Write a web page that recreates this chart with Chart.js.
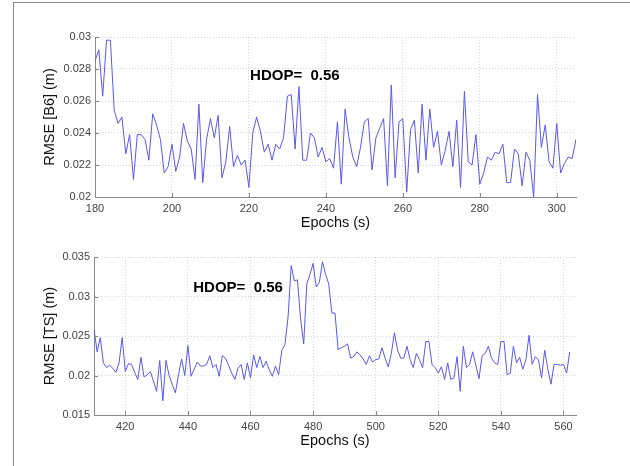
<!DOCTYPE html>
<html><head><meta charset="utf-8">
<script src="https://cdn.jsdelivr.net/npm/chart.js@4.4.1/dist/chart.umd.min.js"></script>
<style>
html,body{margin:0;padding:0;background:#fff;width:630px;height:466px;overflow:hidden;}
#frame{position:absolute;left:13px;top:2px;width:617px;height:464px;border-left:1px solid #8a8a8a;border-top:1px solid #8a8a8a;box-sizing:border-box;}
.box{position:absolute;left:0;width:630px;}
#c1box{top:0;height:232px;}
#c2box{top:232px;height:234px;}
</style></head><body>
<div id="frame"></div>
<div class="box" id="c1box"><canvas id="c1"></canvas></div>
<div class="box" id="c2box"><canvas id="c2"></canvas></div>
<script>
// ---- Top panel: RMSE [B6] ----
const epochsB6 = [180,181,182,183,184,185,186,187,188,189,190,191,192,193,194,195,196,197,198,199,
200,201,202,203,204,205,206,207,208,209,210,211,212,213,214,215,216,217,218,219,
220,221,222,223,224,225,226,227,228,229,230,231,232,233,234,235,236,237,238,239,
240,241,242,243,244,245,246,247,248,249,250,251,252,253,254,255,256,257,258,259,
260,261,262,263,264,265,266,267,268,269,270,271,272,273,274,275,276,277,278,279,
280,281,282,283,284,285,286,287,288,289,290,291,292,293,294,295,296,297,298,299,
300,301,302,303,304,305];
const rmseB6 = [0.0285,0.0292,0.0263,0.0298,0.0298,0.0254,0.0246,0.025,0.0227,0.0239,
0.0211,0.0239,0.0239,0.0236,0.0223,0.0252,0.0245,0.0236,0.0215,0.0219,
0.0233,0.0216,0.0225,0.0246,0.0235,0.023,0.0211,0.0258,0.0209,0.0236,
0.0249,0.0237,0.0251,0.0212,0.0222,0.0244,0.0219,0.0226,0.022,0.0223,
0.0206,0.024,0.025,0.0241,0.0228,0.0233,0.0223,0.0233,0.023,0.0237,
0.0263,0.0264,0.023,0.0269,0.0223,0.0223,0.024,0.0237,0.0225,0.0231,
0.0222,0.0224,0.0218,0.0247,0.0208,0.0255,0.0237,0.0225,0.0219,0.0231,
0.0247,0.0249,0.0217,0.0237,0.0243,0.0249,0.0207,0.027,0.0212,0.0247,
0.0249,0.0203,0.0242,0.0248,0.0215,0.0258,0.0223,0.0255,0.0231,0.0241,
0.022,0.0229,0.0241,0.0219,0.0248,0.0206,0.0266,0.0222,0.022,0.0239,
0.0208,0.0215,0.0225,0.0223,0.0228,0.0227,0.0233,0.0209,0.0209,0.023,
0.0227,0.0207,0.0228,0.0223,0.02,0.0264,0.0231,0.0245,0.0222,0.0218,
0.0246,0.0215,0.0221,0.0225,0.0224,0.0236];
const xTicksB6 = [180,200,220,240,260,280,300];
const yTicksB6 = [0.02,0.022,0.024,0.026,0.028,0.03];

// ---- Bottom panel: RMSE [TS] ----
const epochsTS = [410,411,412,413,414,415,416,417,418,419,420,421,422,423,424,425,426,427,428,429,
430,431,432,433,434,435,436,437,438,439,440,441,442,443,444,445,446,447,448,449,
450,451,452,453,454,455,456,457,458,459,460,461,462,463,464,465,466,467,468,469,
470,471,472,473,474,475,476,477,478,479,480,481,482,483,484,485,486,487,488,489,
490,491,492,493,494,495,496,497,498,499,500,501,502,503,504,505,506,507,508,509,
510,511,512,513,514,515,516,517,518,519,520,521,522,523,524,525,526,527,528,529,
530,531,532,533,534,535,536,537,538,539,540,541,542,543,544,545,546,547,548,549,
550,551,552,553,554,555,556,557,558,559,560,561,562];
const rmseTS = [0.0259,0.023,0.0248,0.0216,0.021,0.0213,0.0209,0.0204,0.0216,0.0248,
0.0205,0.0215,0.0214,0.0204,0.0195,0.0223,0.0198,0.0201,0.0205,0.0193,
0.018,0.0219,0.0168,0.0219,0.02,0.0189,0.0178,0.0201,0.0221,0.02,
0.0238,0.0199,0.0208,0.0217,0.0212,0.0212,0.0214,0.0225,0.021,0.0214,
0.0199,0.0225,0.0222,0.0213,0.0203,0.0195,0.0209,0.0214,0.0195,0.0216,
0.0197,0.0226,0.021,0.0224,0.021,0.0218,0.0207,0.0199,0.0212,0.0201,
0.0232,0.0239,0.0274,0.0339,0.032,0.0321,0.0272,0.024,0.0316,0.0328,
0.0342,0.0312,0.0318,0.0344,0.0328,0.0316,0.0279,0.0279,0.0233,0.0235,
0.0237,0.024,0.0222,0.0224,0.023,0.0226,0.0221,0.0214,0.0225,0.0217,
0.022,0.0221,0.0235,0.0222,0.0211,0.0228,0.0254,0.0232,0.0222,0.0222,
0.0237,0.022,0.021,0.0228,0.022,0.021,0.0243,0.0243,0.0214,0.021,
0.0203,0.0211,0.0195,0.0216,0.0195,0.0197,0.0224,0.018,0.0237,0.021,
0.0214,0.023,0.0213,0.0196,0.0225,0.0228,0.0237,0.0222,0.0216,0.0214,
0.0243,0.0243,0.0201,0.0203,0.0237,0.0216,0.0223,0.0208,0.022,0.0251,
0.0214,0.0224,0.022,0.0197,0.0232,0.0208,0.0189,0.0214,0.0214,0.0213,
0.0214,0.0203,0.023];
const xTicksTS = [420,440,460,480,500,520,540,560];
const yTicksTS = [0.015,0.02,0.025,0.03,0.035];

const noteB6 = {text: 'HDOP=  0.56', x: 220.3, y: 0.0276};
const noteTS = {text: 'HDOP=  0.56', x: 441.7, y: 0.0311};

const FONT = "'Liberation Sans', Arial, sans-serif";

const matlabTicks = {
  id: 'matlabTicks',
  afterDraw(chart) {
    const ctx = chart.ctx, a = chart.chartArea;
    const xs = chart.scales.x, ys = chart.scales.y;
    ctx.save();
    ctx.strokeStyle = '#8a8a8a';
    ctx.lineWidth = 1;
    ctx.beginPath();
    xs.ticks.forEach(t => {
      const px = Math.round(xs.getPixelForValue(t.value)) + 0.5;
      ctx.moveTo(px, a.bottom); ctx.lineTo(px, a.bottom - 4);
    });
    ys.ticks.forEach(t => {
      const py = Math.round(ys.getPixelForValue(t.value)) + 0.5;
      ctx.moveTo(a.left, py); ctx.lineTo(a.left + 4, py);
    });
    ctx.stroke();
    const n = chart.options.plugins.matlabTicks.note;
    if (n) {
      ctx.font = "bold 15px " + FONT;
      ctx.fillStyle = '#000';
      ctx.textBaseline = 'middle';
      ctx.textAlign = 'left';
      ctx.fillText(n.text, xs.getPixelForValue(n.x), ys.getPixelForValue(n.y));
    }
    ctx.restore();
  }
};

function makeChart(id, xs, ys, cfg) {
  const data = xs.map((x, i) => ({x: x, y: ys[i]}));
  return new Chart(document.getElementById(id), {
    type: 'line',
    data: {datasets: [{data: data, borderColor: 'rgb(88,88,240)', borderWidth: 1, pointRadius: 0, tension: 0, fill: false}]},
    plugins: [matlabTicks],
    options: {
      responsive: true, maintainAspectRatio: false, animation: false, devicePixelRatio: 1,
      layout: {padding: cfg.padding},
      plugins: {legend: {display: false}, tooltip: {enabled: false}, matlabTicks: {note: cfg.note}},
      scales: {
        x: {
          type: 'linear', min: cfg.xMin, max: cfg.xMax,
          afterBuildTicks: s => { s.ticks = cfg.xTicks.map(v => ({value: v})); },
          afterFit: s => { s.height = cfg.xHeight; },
          grid: {color: '#d4d4d4', lineWidth: 1, drawTicks: false},
          border: {display: true, color: '#8a8a8a', width: 1, dash: [1, 2]},
          ticks: {padding: 5, color: '#444', font: {family: FONT, size: 11}, maxRotation: 0, autoSkip: false},
          title: {display: true, text: 'Epochs (s)', color: '#111', font: {family: FONT, size: 14.5}, padding: 0}
        },
        y: {
          type: 'linear', min: cfg.yMin, max: cfg.yMax,
          afterBuildTicks: s => { s.ticks = cfg.yTicks.map(v => ({value: v})); },
          afterFit: s => { s.width = cfg.yWidth; },
          grid: {color: '#d4d4d4', lineWidth: 1, drawTicks: false},
          border: {display: true, color: '#8a8a8a', width: 1, dash: [1, 2]},
          ticks: {padding: 4, color: '#444', font: {family: FONT, size: 11}, autoSkip: false,
                  callback: v => String(Number(v.toFixed(4)))},
          title: {display: true, text: cfg.yTitle, color: '#111', font: {family: FONT, size: 14.5}, padding: 0}
        }
      }
    }
  });
}

makeChart('c1', epochsB6, rmseB6, {
  xMin: 180, xMax: 305, xTicks: xTicksB6, yMin: 0.02, yMax: 0.03, yTicks: yTicksB6,
  yTitle: 'RMSE [B6] (m)', note: noteB6,
  padding: {left: 41, top: 37, right: 54, bottom: 0}, yWidth: 54, xHeight: 35
});
makeChart('c2', epochsTS, rmseTS, {
  xMin: 410, xMax: 564, xTicks: xTicksTS, yMin: 0.015, yMax: 0.035, yTicks: yTicksTS,
  yTitle: 'RMSE [TS] (m)', note: noteTS,
  padding: {left: 41, top: 25, right: 54, bottom: 16}, yWidth: 53, xHeight: 35
});
</script>
</body></html>
